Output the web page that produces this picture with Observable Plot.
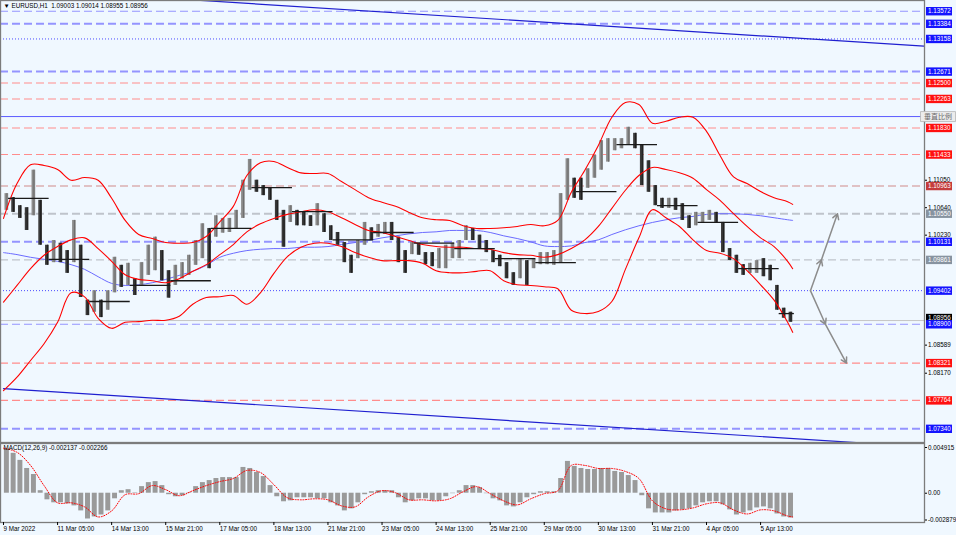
<!DOCTYPE html>
<html><head><meta charset="utf-8">
<script src="https://cdn.jsdelivr.net/npm/d3@7"></script>
<script src="https://cdn.jsdelivr.net/npm/@observablehq/plot@0.6"></script>
<style>
html,body{margin:0;padding:0;background:#f0f8ff;}
#chart{width:956px;height:535px;overflow:hidden;}
#chart svg{display:block;background:#f0f8ff;}
</style></head><body><div id="chart"></div>
<script>
// ---------- data ----------
const symbolText = "EURUSD,H1";
const ohlcLast = [1.09003, 1.09014, 1.08955, 1.08956];
// price ranges per group of 4 hourly bars
const hi = [1.1085,1.1079,1.1067,1.1064,1.1120,1.1075,1.1008,1.1015,1.1011,1.1000,
 1.1045,1.1008,1.0926,1.0940,1.0926,1.0940,1.0990,1.0978,1.0981,1.0958,
 1.0982,1.1008,1.1020,1.1000,1.0970,1.0978,1.0982,1.0993,1.1015,1.1040,
 1.1033,1.1052,1.1048,1.1048,1.1060,1.1105,1.1136,1.1105,1.1097,1.1093,
 1.1075,1.1060,1.1067,1.1060,1.1057,1.1052,1.1070,1.1055,1.1037,1.1027,
 1.1012,1.0993,1.1015,1.1042,1.1034,1.1039,1.1042,1.1042,1.1020,1.1000,
 1.1012,1.1011,1.0997,1.0997,1.1003,1.1008,1.1011,1.1015,1.1037,1.1033,
 1.1023,1.1015,1.1000,1.0993,1.0982,1.0967,1.0988,1.0985,1.0988,1.0997,
 1.0997,1.1000,1.1085,1.1137,1.1108,1.1108,1.1122,1.1142,1.1164,1.1167,
 1.1167,1.1167,1.1184,1.1175,1.1157,1.1134,1.1097,1.1078,1.1078,1.1078,
 1.1070,1.1052,1.1057,1.1057,1.1060,1.1057,1.1042,1.1003,1.0993,1.0979,
 1.0981,1.0985,1.0988,1.0978,1.0948,1.0914,1.0908];
const lo = [1.1060,1.1057,1.1048,1.1030,1.1052,1.1008,1.0978,1.0982,1.0982,1.0966,
 1.0982,1.0930,1.0903,1.0908,1.0900,1.0911,1.0937,1.0945,1.0948,1.0933,
 1.0948,1.0963,1.0970,1.0955,1.0929,1.0948,1.0958,1.0963,1.0978,1.0988,
 1.0973,1.1020,1.1026,1.1027,1.1033,1.1048,1.1090,1.1087,1.1082,1.1075,
 1.1045,1.1005,1.1042,1.1037,1.1037,1.1036,1.1037,1.1027,1.1015,1.1008,
 1.0982,1.0966,1.0988,1.1008,1.1015,1.1020,1.1024,1.1015,1.0982,1.0966,
 1.0994,1.0993,1.0979,1.0976,1.0973,1.0973,1.0988,1.0988,1.1015,1.1015,
 1.1003,1.0997,1.0982,1.0976,1.0958,1.0948,1.0958,1.0948,1.0973,1.0979,
 1.0979,1.0978,1.0981,1.1075,1.1078,1.1075,1.1093,1.1108,1.1120,1.1132,
 1.1149,1.1152,1.1157,1.1152,1.1097,1.1087,1.1067,1.1063,1.1063,1.1060,
 1.1045,1.1033,1.1037,1.1042,1.1045,1.1042,1.0997,1.0985,1.0966,1.0963,
 1.0966,1.0966,1.0961,1.0955,1.0911,1.0899,1.0893];
const barsPerGroup = 4;
// indicator samples (bar index)
const bandIdx = [0,8,16,24,32,40,48,56,64,72,80,88,96,104,112,120,128,136,144,152,
 160,168,176,184,192,200,208,216,224,232,240,248,256,264,272,280,288,296,304,312,
 320,328,336,344,352,360,368,376,384,392,400,408,416,424,432,440,448,456,464,467];
const bbUpper = [1.1048,1.1100,1.1128,1.1127,1.1121,1.1105,1.1109,1.1105,1.1078,1.1045,
 1.1024,1.1018,1.1012,1.1011,1.1012,1.1021,1.1043,1.1066,1.1112,1.1131,
 1.1133,1.1124,1.1116,1.1115,1.1115,1.1103,1.1091,1.1079,1.1072,1.1066,
 1.1057,1.1049,1.1046,1.1045,1.1037,1.1033,1.1033,1.1034,1.1036,1.1039,
 1.1037,1.1045,1.1087,1.1120,1.1157,1.1199,1.1221,1.1218,1.1190,1.1193,
 1.1199,1.1199,1.1178,1.1142,1.1110,1.1100,1.1088,1.1079,1.1073,1.1069];
const bbMiddle = [1.0923,1.0948,1.0973,1.0993,1.1006,1.1016,1.1019,1.1003,1.0984,1.0964,
 1.0957,1.0955,1.0952,1.0958,1.0969,1.0979,1.0994,1.1009,1.1028,1.1040,
 1.1048,1.1054,1.1058,1.1061,1.1058,1.1049,1.1039,1.1030,1.1027,1.1021,
 1.1015,1.1009,1.1006,1.1005,1.1005,1.1003,1.1002,1.0997,1.0994,1.0993,
 1.0990,1.0994,1.1003,1.1016,1.1036,1.1063,1.1090,1.1112,1.1124,1.1121,
 1.1116,1.1108,1.1091,1.1075,1.1055,1.1036,1.1019,1.1006,1.0984,1.0973];
const bbLower = [1.0791,1.0811,1.0836,1.0861,1.0893,1.0937,1.0931,1.0899,1.0884,1.0893,
 1.0894,1.0896,1.0896,1.0902,1.0920,1.0930,1.0931,1.0933,1.0920,1.0937,
 1.0966,1.0991,1.1005,1.1011,1.1011,1.1006,1.0997,1.0990,1.0985,1.0985,
 1.0985,1.0981,1.0970,1.0967,1.0967,1.0969,1.0970,1.0955,1.0949,1.0948,
 1.0946,1.0943,1.0911,1.0906,1.0909,1.0924,1.0972,1.1019,1.1061,1.1049,
 1.1036,1.1016,1.1000,1.0996,1.0988,1.0970,1.0949,1.0926,1.0893,1.0878];
const movingAvg = [1.0997,1.0994,1.0990,1.0987,1.0984,1.0979,1.0972,1.0961,1.0951,1.0948,
 1.0949,1.0952,1.0957,1.0963,1.0969,1.0978,1.0990,1.0996,1.1000,1.1002,
 1.1003,1.1003,1.1005,1.1005,1.1006,1.1009,1.1012,1.1015,1.1019,1.1022,
 1.1025,1.1027,1.1028,1.1030,1.1030,1.1030,1.1027,1.1022,1.1018,1.1013,
 1.1007,1.1006,1.1007,1.1012,1.1016,1.1024,1.1031,1.1037,1.1042,1.1046,
 1.1049,1.1051,1.1054,1.1055,1.1055,1.1054,1.1052,1.1049,1.1046,1.1045];
// daily open lines
const dayStart = [3,27,51,75,99,123,147,171,195,219,243,267,291,315,339,363,387,411,435,459];
const dayOpen = [1.1078,1.0987,1.0924,1.0948,1.0955,1.1033,1.1094,1.1058,1.1016,1.1027,
 1.1011,1.1003,1.0988,1.0982,1.1088,1.1158,1.1067,1.1042,1.0973,1.0906];
// horizontal levels
const levelPrice = [1.13572,1.13384,1.13158,1.12671,1.12500,1.12263,1.11830,1.11433,1.10963,
 1.10550,1.10131,1.09861,1.09402,1.08900,1.08321,1.07764,1.07340];
const levelGroup = ["B","B","B","B","R","R","R","R","D","G","B","G","B","B","R","R","B"];
const levelStyle = ["dash","bold","dot","bold","dash","dash","dash","dash","dash",
 "bold","bold","dash","dot","dash","dash","dash","bold"];
const scaleLinePrice = 1.1200;
const scaleButton = "垂直比例";
const axisTicks = [1.1105, 1.1064, 1.1023, 1.08589, 1.0817];
// trend channel and projections [bar index, price]
const channelTop = [[100, 1.1376], [545, 1.1305]];
const channelBottom = [[0, 1.0794], [545, 1.0707]];
const projUp = [[477.5, 1.09402], [484, 1.09861], [493.5, 1.10550]];
const projDown = [[477.5, 1.09402], [486.4, 1.08900], [498.8, 1.08321]];
// MACD
const macdHist = [0.00473,0.00429,0.00353,0.00266,0.00201,0.00027,-0.00071,-0.00103,-0.00103,-0.00114,
 -0.00136,-0.00190,-0.00277,-0.00255,-0.00234,-0.00190,-0.00060,0.00027,0.00038,0.00005,
 0.00071,0.00114,0.00125,0.00082,-0.00016,-0.00038,-0.00027,0.00005,0.00071,0.00114,
 0.00136,0.00158,0.00168,0.00168,0.00168,0.00277,0.00266,0.00223,0.00179,0.00082,
 -0.00038,-0.00092,-0.00082,-0.00049,-0.00049,-0.00049,-0.00060,-0.00060,-0.00103,-0.00136,
 -0.00190,-0.00168,-0.00103,-0.00016,0.00016,0.00027,0.00027,0.00027,-0.00049,-0.00103,
 -0.00082,-0.00060,-0.00060,-0.00082,-0.00082,-0.00038,-0.00005,0.00027,0.00082,0.00082,
 0.00060,-0.00005,-0.00060,-0.00082,-0.00136,-0.00147,-0.00103,-0.00049,-0.00016,0.00016,
 0.00016,0.00016,0.00158,0.00342,0.00288,0.00266,0.00255,0.00255,0.00266,0.00266,
 0.00234,0.00223,0.00190,0.00136,-0.00027,-0.00168,-0.00212,-0.00212,-0.00212,-0.00190,
 -0.00179,-0.00168,-0.00136,-0.00103,-0.00092,-0.00092,-0.00125,-0.00179,-0.00234,-0.00212,
 -0.00190,-0.00158,-0.00147,-0.00168,-0.00223,-0.00255,-0.00266];
const macdSignal = [0.00484,0.00440,0.00299,0.00082,-0.00103,-0.00103,-0.00147,-0.00255,-0.00190,-0.00016,
 -0.00005,0.00082,0.00038,-0.00027,0.00027,0.00082,0.00125,0.00158,0.00245,0.00223,
 0.00092,-0.00049,-0.00071,-0.00060,-0.00071,-0.00136,-0.00147,-0.00038,0.00027,0.00005,
 -0.00071,-0.00071,-0.00082,-0.00060,0.00016,0.00071,-0.00005,-0.00082,-0.00125,-0.00060,
 -0.00005,0.00027,0.00299,0.00299,0.00266,0.00266,0.00234,0.00158,-0.00082,-0.00168,
 -0.00179,-0.00158,-0.00114,-0.00103,-0.00179,-0.00223,-0.00179,-0.00190,-0.00245,-0.00255];
const macdLabel = "MACD(12,26,9) -0.002137 -0.002266";
const macdTicks = [0.004915, 0, -0.002879];
const dateTickIdx = [0,32,64,96,128,160,192,224,256,288,320,352,384,416,448];
const dateLabels = ["9 Mar 2022","11 Mar 05:00","14 Mar 13:00","15 Mar 21:00","17 Mar 05:00",
 "18 Mar 13:00","21 Mar 21:00","23 Mar 05:00","24 Mar 13:00","25 Mar 21:00","29 Mar 05:00",
 "30 Mar 13:00","31 Mar 21:00","4 Apr 05:00","5 Apr 13:00"];

// ---------- build ----------
const FONT = "'Liberation Sans', Arial, sans-serif";
const FS = 6.3;
const lastBar = hi.length * barsPerGroup;
const xScale = {domain: [-1.775, 545], range: [0, 924], axis: null};

const bars = hi.map((h, k) => ({
  i0: k * barsPerGroup, i1: (k + 1) * barsPerGroup, hi: h, lo: lo[k],
  up: k === 0 || (h + lo[k]) >= (hi[k - 1] + lo[k - 1])
}));
const ind = bandIdx.map((i, k) => ({i, up: bbUpper[k], mid: bbMiddle[k], low: bbLower[k], ma: movingAvg[k], sig: macdSignal[k]}));
const days = dayStart.map((s, k) => ({s, e: Math.min(s + 24, lastBar), p: dayOpen[k]}));
const levels = levelPrice.map((p, k) => ({p, g: levelGroup[k], s: levelStyle[k], label: p.toFixed(5)}));
const current = {p: ohlcLast[3], g: "K", label: ohlcLast[3].toFixed(5)};
const segs = (pts) => pts.slice(1).map((q, k) => ({x1: pts[k][0], y1: pts[k][1], x2: q[0], y2: q[1]}));

const lineColor = {B: "#9494ff", R: "#ff8c8c", D: "#cf8a8a", G: "#bfc4cc"};
const dotColor = "#4a4aff";
const labelColor = {B: "#1414ff", R: "#ff1010", D: "#c43c3c", G: "#8793a0", K: "#000000"};

const boxSym = {draw(ctx) { ctx.moveTo(1.5, -4.2); ctx.lineTo(27.5, -4.2); ctx.lineTo(27.5, 4.2); ctx.lineTo(1.5, 4.2); ctx.closePath(); }};
const btnSym = {draw(ctx) { ctx.moveTo(-4, -5); ctx.lineTo(31, -5); ctx.lineTo(31, 5); ctx.lineTo(-4, 5); ctx.closePath(); }};

const header = "▼ " + symbolText + "  " + ohlcLast.map(v => v.toFixed(5)).join(" ");

const main = Plot.plot({
  width: 956, height: 443,
  marginLeft: 0, marginRight: 32, marginTop: 0, marginBottom: 1,
  x: xScale,
  y: {domain: [1.07136, 1.13732], range: [442, 0], axis: null},
  style: {background: "#f0f8ff", fontFamily: FONT, fontSize: FS + "px"},
  marks: [
    Plot.ruleY(levels.filter(d => d.s === "dash"), {y: "p", stroke: d => lineColor[d.g], strokeWidth: 1.1, strokeDasharray: "8,4"}),
    Plot.ruleY(levels.filter(d => d.s === "bold"), {y: "p", stroke: d => lineColor[d.g], strokeWidth: 2, strokeDasharray: "8,4"}),
    Plot.ruleY(levels.filter(d => d.s === "dot"), {y: "p", stroke: dotColor, strokeWidth: 1, strokeDasharray: "1,2"}),
    Plot.ruleY([scaleLinePrice], {y: d => d, stroke: "#5c5cff", strokeWidth: 1}),
    Plot.ruleY([current], {y: "p", stroke: "#c6c6c6", strokeWidth: 1}),
    Plot.line(channelTop, {x: d => d[0], y: d => d[1], stroke: "#1f1fd0", strokeWidth: 1.2, clip: true}),
    Plot.line(channelBottom, {x: d => d[0], y: d => d[1], stroke: "#1f1fd0", strokeWidth: 1.2, clip: true}),
    Plot.line(ind, {x: "i", y: "ma", stroke: "#6b6bff", strokeWidth: 1, curve: "catmull-rom"}),
    Plot.rect(bars, {x1: "i0", x2: "i1", y1: "lo", y2: "hi", fill: d => d.up ? "#8c8c8c" : "#3a3a3a", insetLeft: 1.5, insetRight: 1.6}),
    Plot.ruleX(bars, {x: d => (d.i0 + d.i1) / 2, y1: "lo", y2: "hi", stroke: d => d.up ? "#6e6e6e" : "#1e1e1e", strokeWidth: 1}),
    Plot.line(ind, {x: "i", y: "up", stroke: "#ff0000", strokeWidth: 1.1, curve: "catmull-rom"}),
    Plot.line(ind, {x: "i", y: "mid", stroke: "#ff0000", strokeWidth: 1.1, curve: "catmull-rom"}),
    Plot.line(ind, {x: "i", y: "low", stroke: "#ff0000", strokeWidth: 1.1, curve: "catmull-rom"}),
    Plot.ruleY(days, {y: "p", x1: "s", x2: "e", stroke: "#1a1a1a", strokeWidth: 1.3}),
    Plot.arrow(segs(projUp), {x1: "x1", y1: "y1", x2: "x2", y2: "y2", stroke: "#8c8c8c", strokeWidth: 1.5, headLength: 6}),
    Plot.arrow(segs(projDown), {x1: "x1", y1: "y1", x2: "x2", y2: "y2", stroke: "#8c8c8c", strokeWidth: 1.5, headLength: 6}),
    Plot.frame({stroke: "#7c7c7c", strokeWidth: 1.3}),
    Plot.axisY(axisTicks, {anchor: "right", tickFormat: d => d.toFixed(5), tickSize: 2, tickPadding: 1.5, fontSize: FS, fontFamily: FONT}),
    Plot.dot([current], {y: "p", frameAnchor: "right", symbol: boxSym, fill: labelColor.K, r: 4, dy: -2.5}),
    Plot.text([current], {y: "p", text: "label", frameAnchor: "right", textAnchor: "start", dx: 3.6, dy: -2.5, fill: "#ffffff", fontSize: FS, fontFamily: FONT}),
    Plot.dot(levels, {y: "p", frameAnchor: "right", symbol: boxSym, fill: d => labelColor[d.g], r: 4}),
    Plot.text(levels, {y: "p", text: "label", frameAnchor: "right", textAnchor: "start", dx: 3.6, fill: "#ffffff", fontSize: FS, fontFamily: FONT}),
    Plot.dot([scaleLinePrice], {y: d => d, frameAnchor: "right", symbol: btnSym, fill: "#ececec", stroke: "#b5b5b5", strokeWidth: 0.8, r: 4}),
    Plot.text([{p: scaleLinePrice, t: scaleButton}], {y: "p", text: "t", frameAnchor: "right", textAnchor: "middle", dx: 13.5, fill: "#6a6a6a", fontSize: 7, fontFamily: "'Noto Sans CJK SC', sans-serif"}),
    Plot.text([header], {text: d => d, frameAnchor: "top-left", dx: 3, dy: 3, lineAnchor: "top", textAnchor: "start", fill: "#000", fontSize: FS, fontFamily: FONT})
  ]
});

const macd = Plot.plot({
  width: 956, height: 92,
  marginLeft: 0, marginRight: 32, marginTop: 0, marginBottom: 13,
  x: xScale,
  y: {domain: [-0.002879, 0.004915], range: [76.5, 4], axis: null},
  style: {background: "#f0f8ff", fontFamily: FONT, fontSize: FS + "px"},
  marks: [
    Plot.rect(macdHist.map((v, k) => ({i0: k * barsPerGroup, i1: (k + 1) * barsPerGroup, v})),
      {x1: "i0", x2: "i1", y1: 0, y2: "v", fill: "#9a9a9a", insetLeft: 0.9, insetRight: 0.9}),
    Plot.line(ind, {x: "i", y: "sig", stroke: "#ff0000", strokeWidth: 1, strokeDasharray: "1,1.6", curve: "catmull-rom"}),
    Plot.frame({stroke: "#7c7c7c", strokeWidth: 1.3}),
    Plot.axisY(macdTicks, {anchor: "right", tickFormat: d => d === 0 ? "0.00" : d.toFixed(6), tickSize: 2, tickPadding: 1.5, fontSize: FS, fontFamily: FONT}),
    Plot.axisX(dateTickIdx, {anchor: "bottom", tickFormat: d => dateLabels[dateTickIdx.indexOf(d)], textAnchor: "start", tickSize: 3, tickPadding: 1, fontSize: FS, fontFamily: FONT}),
    Plot.text([macdLabel], {text: d => d, frameAnchor: "top-left", dx: 3, dy: 2.5, lineAnchor: "top", textAnchor: "start", fill: "#000", fontSize: FS, fontFamily: FONT})
  ]
});

const root = document.getElementById("chart");
root.appendChild(main);
root.appendChild(macd);
</script></body></html>
